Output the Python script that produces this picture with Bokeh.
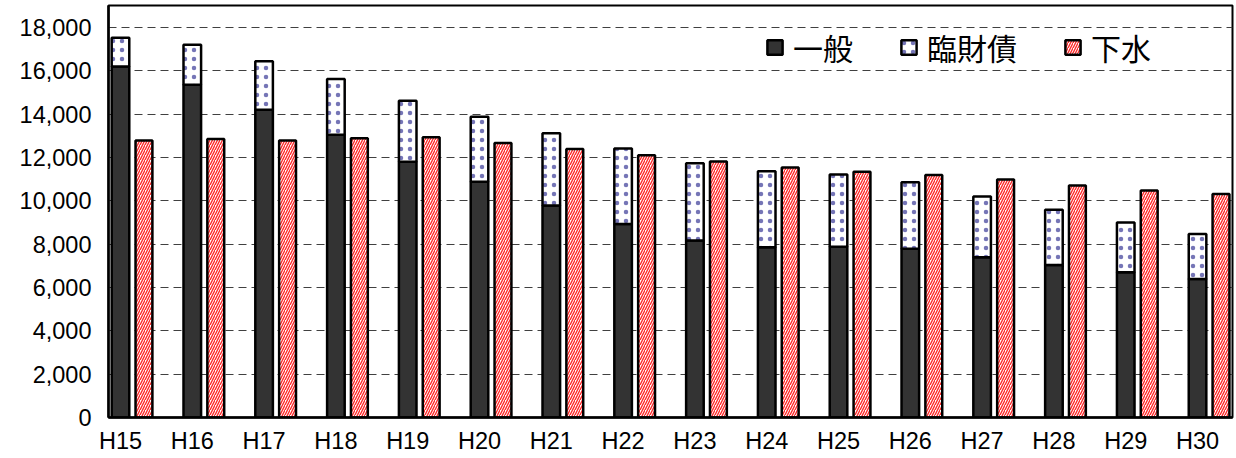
from bokeh.plotting import figure
from bokeh.models import Range1d, FixedTicker, NumeralTickFormatter, Legend, LegendItem, ColumnDataSource
from bokeh.transform import dodge
from bokeh.embed import file_html
from bokeh.resources import INLINE

years = ["H15", "H16", "H17", "H18", "H19", "H20", "H21", "H22",
         "H23", "H24", "H25", "H26", "H27", "H28", "H29", "H30"]
ippan = [16200, 15350, 14200, 13050, 11800, 10880, 9780, 8930,
         8170, 7850, 7880, 7790, 7390, 7040, 6700, 6390]
rinzai = [1320, 1850, 2240, 2570, 2820, 3000, 3330, 3480,
          3560, 3510, 3330, 3060, 2810, 2550, 2300, 2080]
gesui = [12780, 12850, 12780, 12880, 12930, 12670, 12390, 12100,
         11810, 11540, 11340, 11190, 10980, 10700, 10470, 10310]
y_ticks = [0, 2000, 4000, 6000, 8000, 10000, 12000, 14000, 16000, 18000]

src = ColumnDataSource(dict(x=list(range(len(years))), ippan=ippan, rinzai=rinzai, gesui=gesui))

p = figure(width=1236, height=458,
           x_range=Range1d(-0.167, 15.487), y_range=Range1d(0, 19010),
           output_backend="svg", toolbar_location=None,
           min_border_left=108, min_border_right=4, min_border_top=5, min_border_bottom=41)

p.background_fill_color = "white"
p.border_fill_color = "white"
p.outline_line_color = "black"
p.outline_line_width = 2
p.xgrid.visible = False
p.ygrid.ticker = FixedTicker(ticks=y_ticks)
p.ygrid.grid_line_color = "#404040"
p.ygrid.grid_line_width = 1.2
p.ygrid.grid_line_dash = "8 5"

stack = p.vbar_stack(["ippan", "rinzai"], x="x", width=0.245, source=src,
                     fill_color=["#333333", "white"], line_color="black", line_width=2.5,
                     hatch_pattern=[" ", "dot"], hatch_color="#2b2b8f",
                     hatch_scale=9, hatch_weight=0.5, hatch_alpha=0.65)
red = p.vbar(x=dodge("x", 0.327, range=p.x_range), top="gesui", width=0.235, source=src,
             fill_color="white", line_color="black", line_width=2.5,
             hatch_pattern="right_diagonal_line", hatch_color="#ff2a2a",
             hatch_scale=5, hatch_weight=1.4)

p.xaxis.ticker = FixedTicker(ticks=list(range(len(years))))
p.xaxis.major_label_overrides = {i: y for i, y in enumerate(years)}
p.yaxis.ticker = FixedTicker(ticks=y_ticks)
p.yaxis.formatter = NumeralTickFormatter(format="0,0")
for ax in (p.xaxis, p.yaxis):
    ax.axis_line_color = "black"
    ax.axis_line_width = 2.5
    ax.major_tick_in = 0
    ax.major_tick_out = 0
    ax.minor_tick_in = 0
    ax.minor_tick_out = 0
    ax.major_label_text_font = "Liberation Sans"
    ax.major_label_text_font_size = "23.5px"
    ax.major_label_text_color = "black"
p.yaxis.major_label_standoff = 17
p.xaxis.major_label_standoff = 10

legend = Legend(items=[LegendItem(label="一般", renderers=[stack[0]]),
                       LegendItem(label="臨財債", renderers=[stack[1]]),
                       LegendItem(label="下水", renderers=[red])],
                location=(657, 348), orientation="horizontal",
                padding=0, margin=0, spacing=46, label_standoff=9,
                glyph_width=19, glyph_height=18,
                border_line_color=None, background_fill_alpha=0,
                label_text_font="Noto Sans CJK JP", label_text_font_size="30px",
                label_text_color="black")
p.add_layout(legend)

open("out.html", "w").write(file_html(p, INLINE))
